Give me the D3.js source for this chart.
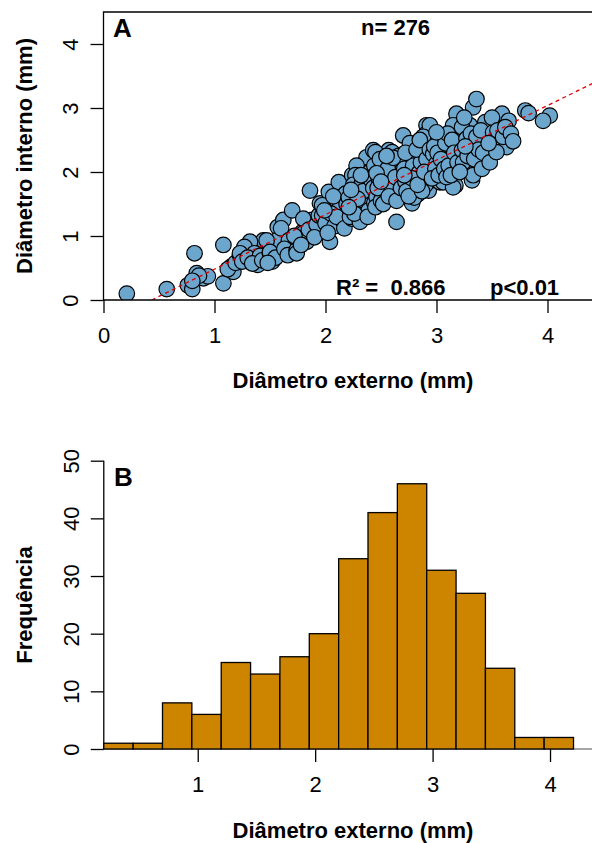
<!DOCTYPE html>
<html>
<head>
<meta charset="utf-8">
<script src="https://cdn.jsdelivr.net/npm/d3@7/dist/d3.min.js"></script>
<style>
body { margin: 0; background: #fff; }
text { font-family: "Liberation Sans", Arial, sans-serif; fill: #000; }
</style>
</head>
<body>
<div class="container"></div>
<script>
var pontos = [
	[0.21,0.10],[0.57,0.17],
	[0.82,0.73],[0.76,0.23],[0.80,0.17],[0.84,0.42],[0.90,0.34],[0.94,0.37],[0.86,0.38],[0.80,0.30],
	[1.08,0.86],[1.08,0.26],[1.15,0.52],[1.17,0.44],[1.12,0.48],[1.19,0.58],
	[1.23,0.70],[1.29,0.75],[1.32,0.88],[1.36,0.62],[1.39,0.55],[1.44,0.93],[1.32,0.91],[1.27,0.83],
	[1.23,0.73],[1.36,0.73],[1.25,0.60],[1.30,0.66],[1.41,0.69],[1.34,0.57],[1.43,0.62],
	[1.50,0.73],[1.52,0.60],[1.57,1.14],[1.56,0.93],[1.62,1.25],[1.60,1.12],[1.47,0.93],[1.50,0.75],
	[1.67,0.93],[1.55,0.66],[1.63,0.80],[1.48,0.58],[1.66,0.70],
	[1.86,1.71],[1.70,1.40],[1.74,0.78],[1.79,1.06],[1.83,0.91],[1.88,1.25],[1.80,1.27],[1.80,1.04],
	[1.74,0.73],[1.76,0.95],[1.85,1.10],[1.92,1.18],[1.72,1.00],[1.90,0.98],[1.78,0.86],[1.94,1.32],
	[1.95,1.51],[2.03,1.69],[2.04,0.91],[1.97,1.32],[2.10,1.56],[2.12,1.84],[2.18,1.66],[2.16,1.40],
	[2.13,1.45],[1.97,1.48],[2.00,1.20],[2.05,1.35],[2.08,1.15],[2.15,1.25],[2.19,1.50],[2.02,1.05],
	[2.10,1.30],[2.07,1.62],[2.17,1.12],[1.99,1.40],
	[2.24,1.27],[2.31,1.25],[2.27,1.45],[2.24,1.95],[2.30,2.05],[2.37,2.23],[2.36,1.69],[2.43,2.34],
	[2.42,2.00],[2.22,1.30],[2.31,1.22],[2.40,1.61],[2.37,1.79],[2.28,2.10],[2.40,2.00],[2.27,1.95],
	[2.28,1.69],[2.35,1.55],[2.21,1.60],[2.25,1.80],[2.33,1.85],[2.39,1.40],[2.44,1.52],[2.26,1.35],
	[2.34,1.70],[2.41,1.88],[2.29,1.58],[2.23,1.72],[2.38,1.30],[2.43,1.75],[2.32,1.95],[2.21,1.45],
	[2.44,2.10],
	[2.46,1.61],[2.45,1.45],[2.51,2.08],[2.52,1.82],[2.57,2.34],[2.60,2.31],[2.45,2.31],[2.64,2.03],
	[2.51,1.97],[2.67,1.87],[2.55,1.84],[2.51,1.66],[2.61,1.74],[2.64,1.22],[2.52,1.76],[2.66,2.25],
	[2.48,1.90],[2.50,1.55],[2.53,2.15],[2.55,1.70],[2.58,1.95],[2.60,1.60],[2.62,2.10],[2.65,1.80],
	[2.68,2.00],[2.47,1.75],[2.49,2.20],[2.54,1.88],[2.56,2.05],[2.59,1.78],[2.63,1.92],[2.66,1.65],
	[2.69,2.18],[2.46,1.98],[2.52,1.50],[2.57,1.62],[2.61,2.22],[2.64,1.55],[2.68,1.75],[2.50,1.85],
	[2.55,2.25],
	[2.70,2.57],[2.91,2.73],[2.91,2.60],[2.84,2.34],[2.76,2.03],[2.87,2.08],[2.93,1.71],[2.78,1.51],
	[2.79,1.76],[2.94,1.97],[2.85,1.76],[2.94,2.73],
	[2.72,1.85],[2.74,2.15],[2.75,1.95],[2.77,2.30],[2.80,2.05],[2.81,1.88],[2.82,2.20],[2.83,1.65],
	[2.86,2.40],[2.88,1.90],[2.89,2.25],[2.90,2.05],[2.92,2.45],[2.93,1.85],[2.71,2.05],[2.73,1.70],
	[2.76,2.45],[2.79,2.10],[2.80,1.60],[2.84,1.98],[2.86,2.15],[2.88,2.55],[2.90,1.80],[2.72,2.30],
	[2.75,1.62],[2.78,1.90],[2.82,2.35],[2.85,2.50],[2.87,1.70],[2.91,2.20],[2.94,2.35],[2.71,1.95],
	[2.83,1.80],[2.89,2.00],
	[3.18,2.91],[3.15,2.73],[3.05,2.54],[2.97,2.28],[3.00,2.13],[3.12,2.23],[3.03,1.84],[3.15,1.79],
	[3.18,2.00],[3.12,2.39],[3.12,2.21],[3.18,1.97],[3.06,1.84],[3.17,1.79],[2.99,2.05],[3.15,1.76],
	[2.96,1.90],[2.98,2.40],[3.01,2.30],[3.02,1.95],[3.04,2.20],[3.07,2.05],[3.08,2.45],[3.09,1.92],
	[3.10,2.60],[3.11,2.10],[3.13,1.95],[3.14,2.50],[3.16,2.30],[3.19,2.15],[3.00,2.62],
	[3.33,3.01],[3.36,3.14],[3.29,2.70],[3.23,2.34],[3.30,2.47],[3.32,2.13],[3.32,1.87],[3.30,2.73],
	[3.23,2.70],[3.33,2.36],[3.27,2.52],[3.24,2.15],[3.39,2.13],[3.33,1.95],[3.44,2.44],[3.44,2.78],
	[3.21,2.00],[3.25,2.85],[3.28,2.25],[3.31,2.60],[3.34,2.20],[3.36,2.55],[3.38,2.35],[3.40,2.65],
	[3.42,2.30],[3.26,2.40],[3.41,2.05],
	[3.59,2.91],[3.65,2.80],[3.51,2.62],[3.57,2.49],[3.63,2.39],[3.48,2.15],[3.54,2.31],
	[3.47,2.45],[3.50,2.85],[3.55,2.65],[3.60,2.55],[3.62,2.70],[3.67,2.60],[3.69,2.48],
	[3.80,2.96],[3.83,2.92],
	[4.02,2.88],[3.96,2.80]
];

// reta de regressao (intercepto, inclinacao)
var ajuste = [-0.37, 0.852];

// histograma B
var quebras = [0.2,0.45,0.7,0.95,1.2,1.45,1.7,1.95,2.2,2.45,2.7,2.95,3.2,3.45,3.7,3.95,4.2];
var contagens = [1,1,8,6,15,13,16,20,33,41,46,31,27,14,2,2];

var ticksXA = [0,1,2,3,4];
var ticksYA = [0,1,2,3,4];
var ticksXB = [1,2,3,4];
var ticksYB = [0,10,20,30,40,50];

const WIDTH = 592;
const HEIGHT = 843;
const TICK = 13;

var fmt = d3.format('d');

var translate = function(x, y){
	return "translate("+x+","+y+")";
};

var svg = d3.select('.container').append('svg')
	.attr('width', WIDTH)
	.attr('height', HEIGHT);

var styleAxis = function(g, rotated, labelOffset){
	g.select('.domain').remove();
	g.selectAll('line').attr('stroke', '#000').attr('stroke-width', 1.3);
	g.selectAll('text')
		.style('font-size', '22px')
		.attr('fill', '#000');
	if(rotated){
		g.selectAll('text')
			.attr('x', 0).attr('dy', 0)
			.attr('text-anchor', 'middle')
			.attr('transform', 'translate(' + (-labelOffset) + ',0) rotate(-90)');
	} else {
		g.selectAll('text').attr('y', labelOffset).attr('dy', 0);
	}
};

// ---------- painel A ----------
var xA = d3.scaleLinear().domain([0, 4.5]).range([103.5, 603]);
var yA = d3.scaleLinear().domain([0, 4.5]).range([300, 12]);

svg.append('defs').append('clipPath').attr('id', 'clipA')
	.append('rect')
	.attr('x', xA(0)).attr('y', yA(4.5))
	.attr('width', xA(4.5) - xA(0)).attr('height', yA(0) - yA(4.5));

svg.append('g')
	.attr('transform', translate(0, yA(0)))
	.call(d3.axisBottom(xA).tickValues(ticksXA).tickFormat(fmt).tickSize(TICK).tickSizeOuter(0))
	.call(styleAxis, false, 42.7);

svg.append('g')
	.attr('transform', translate(xA(0), 0))
	.call(d3.axisLeft(yA).tickValues(ticksYA).tickFormat(fmt).tickSize(TICK).tickSizeOuter(0))
	.call(styleAxis, true, 25.2);

var pontosG = svg.append('g').attr('clip-path', 'url(#clipA)');

pontosG.selectAll('circle').data(pontos)
	.enter().append('circle')
	.attr('cx', function(d){ return xA(d[0]); })
	.attr('cy', function(d){ return yA(d[1]); })
	.attr('r', 7.8)
	.attr('fill', '#6CA6CD')
	.attr('stroke', '#000')
	.attr('stroke-width', 1.2);

var linha = d3.line()
	.x(function(d){ return xA(d); })
	.y(function(d){ return yA(ajuste[0] + ajuste[1] * d); });

pontosG.append('path')
	.attr('d', linha([-ajuste[0] / ajuste[1], 4.5]))
	.attr('fill', 'none')
	.attr('stroke', '#e00000')
	.attr('stroke-width', 1.3)
	.attr('stroke-dasharray', '4,3.5');

svg.append('path')
	.attr('d', 'M' + xA(4.5) + ',' + yA(4.5) + 'H' + xA(0) + 'V' + yA(0) + 'H' + xA(4.5))
	.attr('fill', 'none')
	.attr('stroke', '#000')
	.attr('stroke-width', 1.3);

svg.append('text').text('A')
	.attr('x', 113).attr('y', 36.5)
	.style('font-size', '26px').style('font-weight', 'bold');

svg.append('text').text('n= 276')
	.attr('x', 361).attr('y', 35)
	.style('font-size', '22px').style('font-weight', 'bold');

svg.append('text').text('R² =  0.866')
	.attr('x', 336).attr('y', 295)
	.style('font-size', '22px').style('font-weight', 'bold')
	.style('white-space', 'pre');

svg.append('text').text('p<0.01')
	.attr('x', 490).attr('y', 295)
	.style('font-size', '22px').style('font-weight', 'bold');

svg.append('text').text('Diâmetro externo (mm)')
	.attr('x', 353).attr('y', 388)
	.attr('text-anchor', 'middle')
	.style('font-size', '22px').style('font-weight', 'bold');

svg.append('text').text('Diâmetro interno (mm)')
	.attr('transform', translate(32, 156) + ' rotate(-90)')
	.attr('text-anchor', 'middle')
	.style('font-size', '22px').style('font-weight', 'bold');

// ---------- painel B ----------
var xB = d3.scaleLinear().domain([0, 4.5]).range([80.3, 80.3 + 4.5 * 117.43]);
var yB = d3.scaleLinear().domain([0, 50]).range([749, 460.7]);

svg.append('line')
	.attr('x1', xB(0.2)).attr('x2', WIDTH)
	.attr('y1', yB(0)).attr('y2', yB(0))
	.attr('stroke', '#888').attr('stroke-width', 1.3);

svg.append('g')
	.attr('transform', translate(0, yB(0)))
	.call(d3.axisBottom(xB).tickValues(ticksXB).tickFormat(fmt).tickSize(TICK).tickSizeOuter(0))
	.call(styleAxis, false, 42.7);

var yAxisB = svg.append('g')
	.attr('transform', translate(xB(0.2), 0))
	.call(d3.axisLeft(yB).tickValues(ticksYB).tickFormat(fmt).tickSize(TICK).tickSizeOuter(0))
	.call(styleAxis, true, 25.2);

yAxisB.append('line')
	.attr('x1', 0).attr('x2', 0)
	.attr('y1', yB(0)).attr('y2', yB(50))
	.attr('stroke', '#000').attr('stroke-width', 1.3);

svg.append('g').selectAll('rect').data(contagens)
	.enter().append('rect')
	.attr('x', function(d, i){ return xB(quebras[i]); })
	.attr('width', function(d, i){ return xB(quebras[i + 1]) - xB(quebras[i]); })
	.attr('y', function(d){ return yB(d); })
	.attr('height', function(d){ return yB(0) - yB(d); })
	.attr('fill', '#CD8500')
	.attr('stroke', '#000')
	.attr('stroke-width', 1.3);

svg.append('text').text('B')
	.attr('x', 114).attr('y', 486)
	.style('font-size', '26px').style('font-weight', 'bold');

svg.append('text').text('Diâmetro externo (mm)')
	.attr('x', 353).attr('y', 838)
	.attr('text-anchor', 'middle')
	.style('font-size', '22px').style('font-weight', 'bold');

svg.append('text').text('Frequência')
	.attr('transform', translate(32, 605) + ' rotate(-90)')
	.attr('text-anchor', 'middle')
	.style('font-size', '22px').style('font-weight', 'bold');
</script>
</body>
</html>
